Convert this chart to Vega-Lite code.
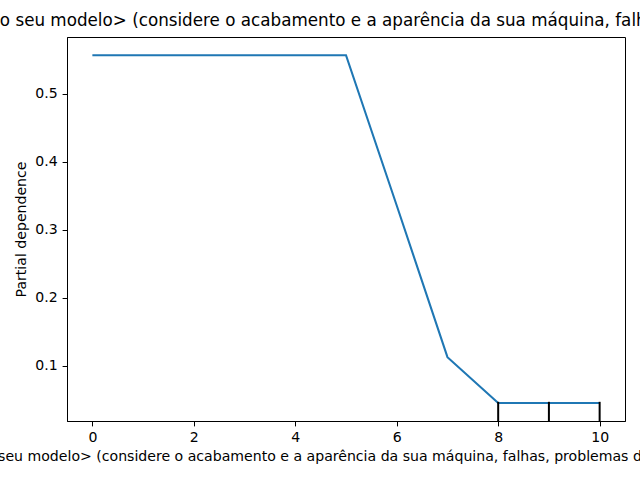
{
  "$schema": "https://vega.github.io/schema/vega-lite/v6.json",
  "width": 558,
  "height": 384,
  "autosize": "none",
  "padding": {"left": 67, "top": 37, "right": 15, "bottom": 59},
  "background": "white",
  "title": {
    "text": "Qual nota você daria para <nome do seu modelo> (considere o acabamento e a aparência da sua máquina, falhas, problemas de montagem, ruídos etc.)",
    "font": "DejaVu Sans",
    "fontSize": 16.75,
    "fontWeight": "normal",
    "color": "black",
    "anchor": "middle",
    "baseline": "alphabetic",
    "offset": 8.3,
    "dy": 14
  },
  "config": {
    "view": {"stroke": "black", "strokeWidth": 1},
    "axis": {
      "grid": false,
      "labelFont": "DejaVu Sans",
      "labelFontSize": 14.1,
      "labelColor": "black",
      "tickColor": "black",
      "tickSize": 4.9,
      "tickWidth": 1,
      "domainColor": "black",
      "domainWidth": 1,
      "labelPadding": 4.9,
      "titleFont": "DejaVu Sans",
      "titleFontSize": 14.1,
      "titleFontWeight": "normal",
      "titleColor": "black"
    }
  },
  "layer": [
    {
      "data": {
        "values": [
          {"x": 0, "pd": 0.557},
          {"x": 1, "pd": 0.557},
          {"x": 2, "pd": 0.557},
          {"x": 3, "pd": 0.557},
          {"x": 4, "pd": 0.557},
          {"x": 5, "pd": 0.557},
          {"x": 6, "pd": 0.336},
          {"x": 7, "pd": 0.113},
          {"x": 8, "pd": 0.0456},
          {"x": 9, "pd": 0.0456},
          {"x": 10, "pd": 0.0456}
        ]
      },
      "mark": {"type": "line", "color": "#1f77b4", "strokeWidth": 2.08, "clip": true},
      "encoding": {
        "x": {
          "field": "x",
          "type": "quantitative",
          "scale": {"domain": [-0.5, 10.5], "nice": false, "zero": false},
          "axis": {
            "values": [0, 2, 4, 6, 8, 10],
            "format": "d",
            "title": "Qual nota você daria para <nome do seu modelo> (considere o acabamento e a aparência da sua máquina, falhas, problemas de montagem, ruídos, vibração e outros dano)",
            "titlePadding": 5
          }
        },
        "y": {
          "field": "pd",
          "type": "quantitative",
          "scale": {"domain": [0.0191, 0.5838], "nice": false, "zero": false},
          "axis": {
            "values": [0.1, 0.2, 0.3, 0.4, 0.5],
            "format": ".1f",
            "title": "Partial dependence",
            "titlePadding": 6
          }
        }
      }
    },
    {
      "data": {"values": [{"decile": 8}, {"decile": 9}, {"decile": 10}]},
      "mark": {"type": "rule", "color": "black", "strokeWidth": 2},
      "encoding": {
        "x": {"field": "decile", "type": "quantitative"},
        "y": {"datum": 0.0191},
        "y2": {"datum": 0.0473}
      }
    }
  ]
}
